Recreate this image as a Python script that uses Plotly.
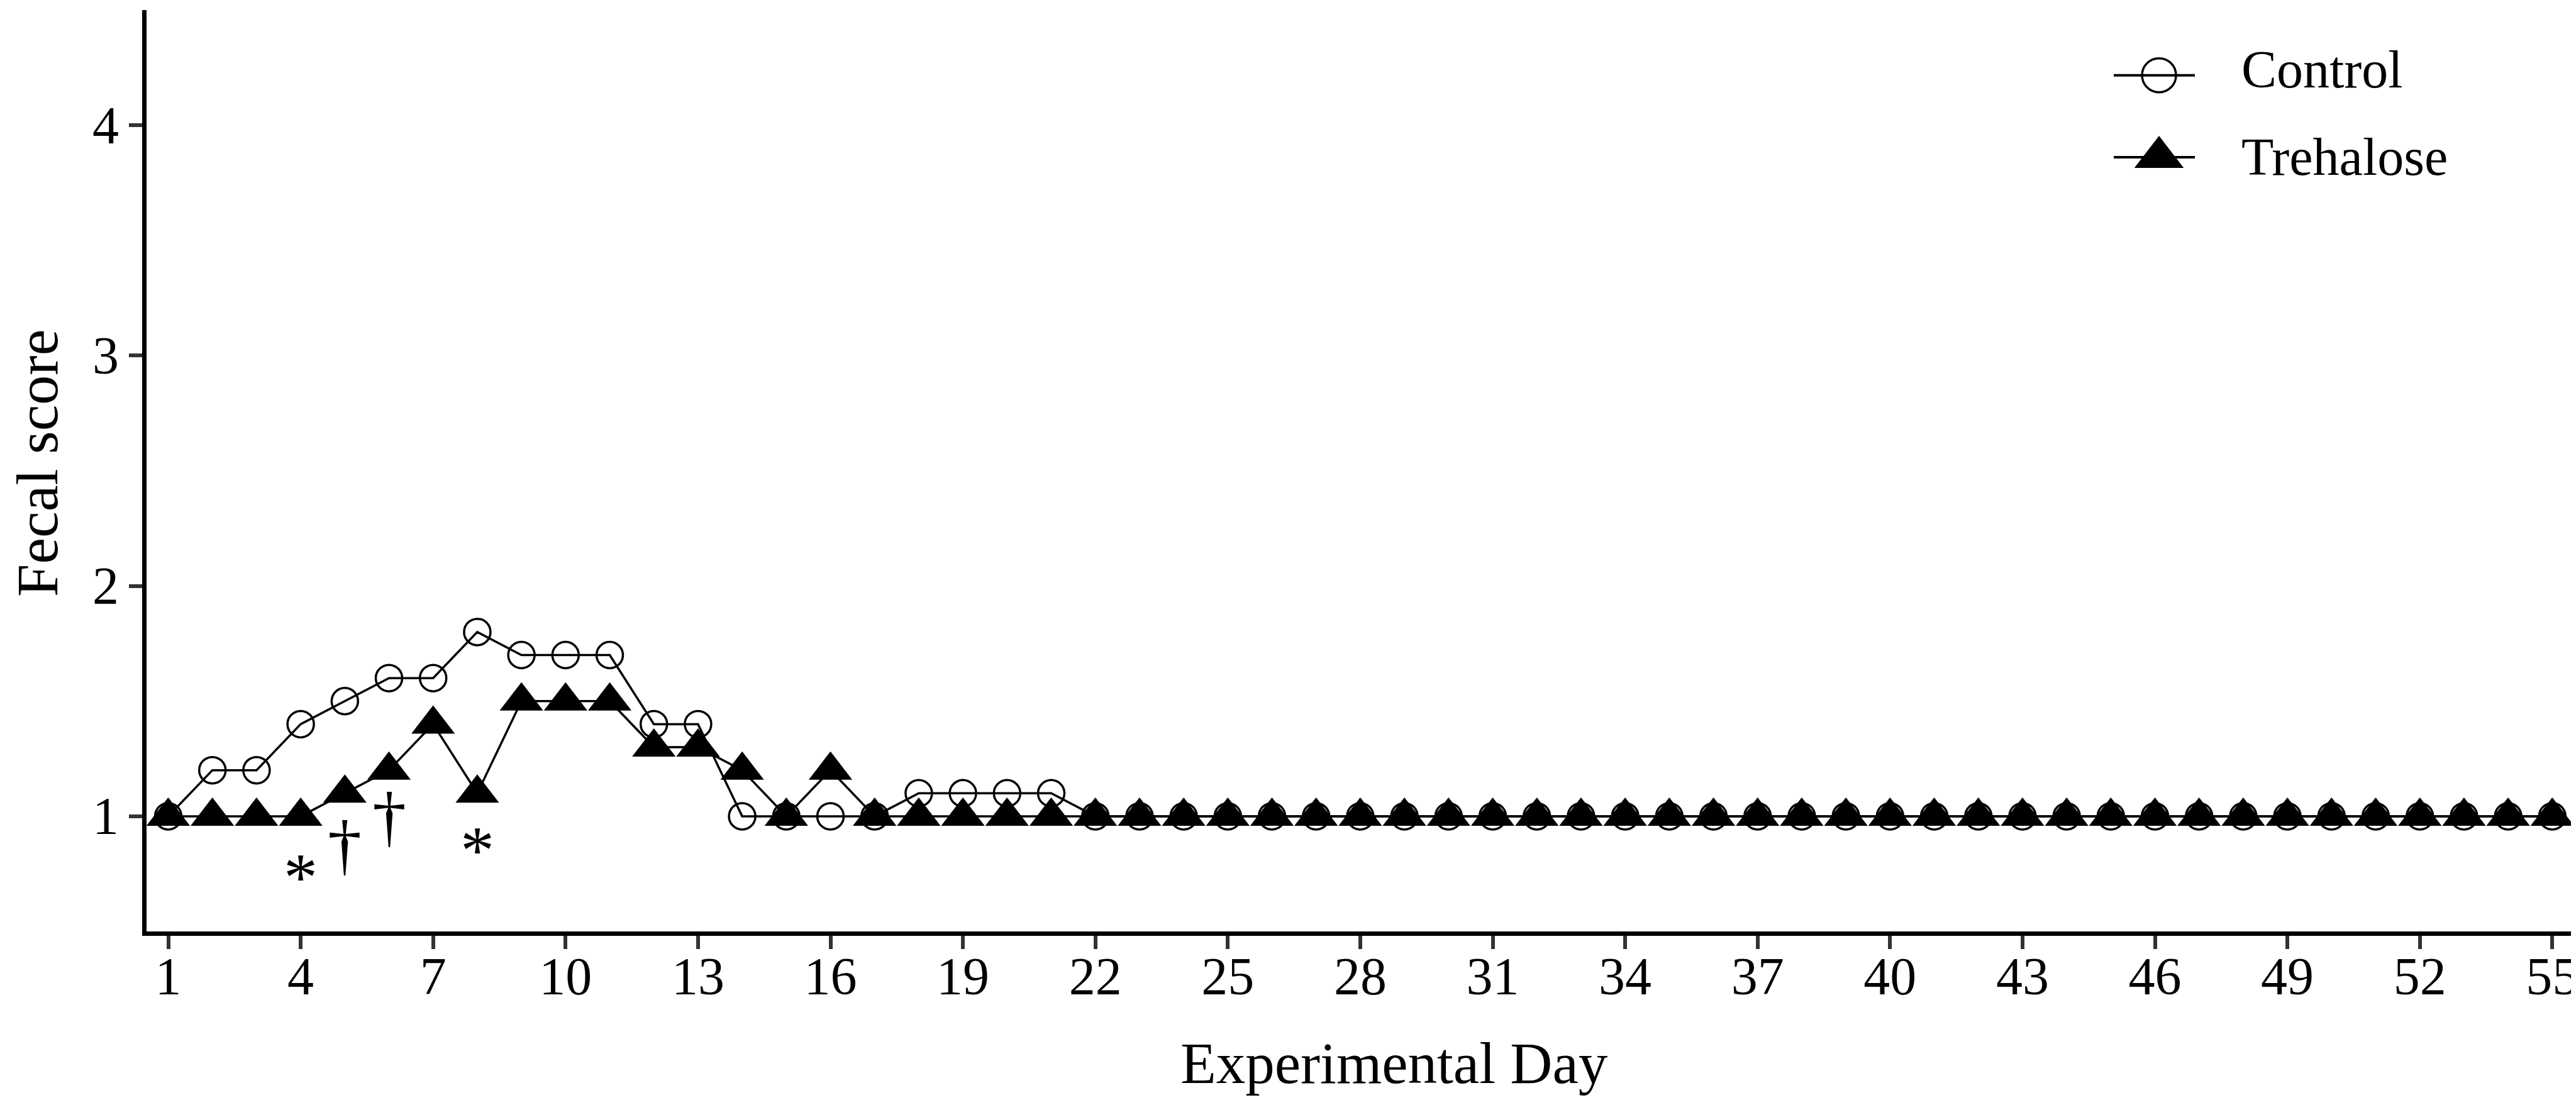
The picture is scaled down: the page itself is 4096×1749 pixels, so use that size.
import plotly.graph_objects as go

# ---- data ----
days = list(range(1, 56))
control = [1.0, 1.2, 1.2, 1.4, 1.5, 1.6, 1.6, 1.8, 1.7, 1.7,
           1.7, 1.4, 1.4, 1.0, 1.0, 1.0, 1.0, 1.1, 1.1, 1.1,
           1.1, 1.0, 1.0, 1.0, 1.0, 1.0, 1.0, 1.0, 1.0, 1.0,
           1.0, 1.0, 1.0, 1.0, 1.0, 1.0, 1.0, 1.0, 1.0, 1.0,
           1.0, 1.0, 1.0, 1.0, 1.0, 1.0, 1.0, 1.0, 1.0, 1.0,
           1.0, 1.0, 1.0, 1.0, 1.0]
trehalose = [1.0, 1.0, 1.0, 1.0, 1.1, 1.2, 1.4, 1.1, 1.5, 1.5,
             1.5, 1.3, 1.3, 1.2, 1.0, 1.2, 1.0, 1.0, 1.0, 1.0,
             1.0, 1.0, 1.0, 1.0, 1.0, 1.0, 1.0, 1.0, 1.0, 1.0,
             1.0, 1.0, 1.0, 1.0, 1.0, 1.0, 1.0, 1.0, 1.0, 1.0,
             1.0, 1.0, 1.0, 1.0, 1.0, 1.0, 1.0, 1.0, 1.0, 1.0,
             1.0, 1.0, 1.0, 1.0, 1.0]
x_tick_vals = [1, 4, 7, 10, 13, 16, 19, 22, 25, 28, 31, 34, 37, 40, 43, 46, 49, 52, 55]
y_tick_vals = [1, 2, 3, 4]
sig_days = [4, 5, 6, 8]
sig_marks = ["*", "\u2020", "\u2020", "*"]
sig_y = [0.773, 0.855, 0.978, 0.888]
series_names = ["Control", "Trehalose"]
x_title = "Experimental Day"
y_title = "Fecal score"

# ---- layout geometry (window pixels; page body has an 8px margin) ----
OFF = 8
WIN_W, WIN_H = 4096, 1749
W, H = WIN_W - OFF, WIN_H - OFF
PLOT_LEFT, PLOT_TOP, PLOT_BOTTOM = 233, 16, 1481     # window coordinates
L = PLOT_LEFT - OFF
T = PLOT_TOP - OFF
B = H - (PLOT_BOTTOM - OFF)
R = 0
PW, PH = W - L - R, H - T - B
PX_PER_DAY = 70.2
DAY1_PX = 267.5
xmin = 1 - (DAY1_PX - PLOT_LEFT) / PX_PER_DAY
xmax = xmin + PW / PX_PER_DAY
FONT = "Liberation Serif, Times New Roman, serif"


def px_x(p):  # window pixel -> paper fraction
    return (p - OFF - L) / PW


def px_y(p):
    return (H - B - (p - OFF)) / PH


fig = go.Figure()

fig.add_trace(go.Scatter(
    x=days, y=control, mode="lines+markers", name=series_names[0],
    line=dict(color="black", width=3.5),
    marker=dict(symbol="circle-open", size=42, color="black",
                line=dict(width=3.5, color="black")),
    showlegend=False))
fig.add_trace(go.Scatter(
    x=days, y=trehalose, mode="lines+markers", name=series_names[1],
    line=dict(color="black", width=3.5),
    marker=dict(symbol="triangle-up", size=60, color="black",
                line=dict(width=0)),
    showlegend=False))

# ---- custom legend drawn on an overlay axis in window pixels ----
leg_x0, leg_x1, leg_xc = 3361, 3490, 3433
leg_rows = [119.7, 250]
leg_text_y = [111, 249.5]
leg_symbols = [dict(symbol="circle-open", size=54, color="black", line=dict(width=3.5, color="black")),
               dict(symbol="triangle-up", size=68, color="black", line=dict(width=0))]
for name, yy, sym in zip(series_names, leg_rows, leg_symbols):
    fig.add_trace(go.Scatter(x=[leg_x0, leg_x1], y=[yy, yy], mode="lines",
                             line=dict(color="black", width=4),
                             xaxis="x2", yaxis="y2", showlegend=False, hoverinfo="skip"))
    fig.add_trace(go.Scatter(x=[leg_xc], y=[yy], mode="markers", marker=sym,
                             xaxis="x2", yaxis="y2", showlegend=False, hoverinfo="skip"))

annotations = []
for name, ty in zip(series_names, leg_text_y):
    annotations.append(dict(x=px_x(3562), y=px_y(ty), xref="paper", yref="paper", text=name,
                            showarrow=False, xanchor="left", yanchor="middle",
                            font=dict(family=FONT, size=84, color="black")))

# y tick labels placed at the axis scale positions
for v in y_tick_vals:
    annotations.append(dict(x=px_x(190), y=v, xref="paper", yref="y", text=str(v),
                            showarrow=False, xanchor="right", yanchor="middle",
                            borderpad=0,
                            font=dict(family=FONT, size=84, color="black")))

# significance marks
for d, m, yv in zip(sig_days, sig_marks, sig_y):
    annotations.append(dict(x=d, y=yv, xref="x", yref="y", text=m, showarrow=False,
                            xanchor="center", yanchor="middle",
                            yshift=(-13 if m == "*" else 8),
                            font=dict(family=FONT, size=108, color="black")))

# axis titles
annotations.append(dict(x=px_x(2217), y=px_y(1691), xref="paper", yref="paper", text=x_title,
                        showarrow=False, xanchor="center", yanchor="middle",
                        font=dict(family=FONT, size=93, color="black")))
annotations.append(dict(x=px_x(59), y=px_y(737), xref="paper", yref="paper",
                        text=y_title, textangle=-90,
                        showarrow=False, xanchor="center", yanchor="middle",
                        font=dict(family=FONT, size=94, color="black")))

fig.update_layout(
    width=W, height=H,
    margin=dict(l=L, r=R, t=T, b=B, pad=0, autoexpand=False),
    paper_bgcolor="white", plot_bgcolor="white",
    font=dict(family=FONT, color="black"),
    showlegend=False,
    annotations=annotations,
    xaxis=dict(range=[xmin, xmax], tickmode="array", tickvals=x_tick_vals,
               ticks="outside", ticklen=21, tickwidth=6, tickcolor="#333333",
               showline=True, linewidth=7, linecolor="black",
               showgrid=False, zeroline=False, automargin=False,
               ticklabeloverflow="allow",
               tickfont=dict(family=FONT, size=84, color="black"),
               ticklabelstandoff=-29),
    yaxis=dict(range=[0.5, 4.5], tickmode="array", tickvals=y_tick_vals,
               ticks="outside", ticklen=21, tickwidth=6, tickcolor="#333333",
               showline=True, linewidth=7, linecolor="black",
               showgrid=False, zeroline=False, automargin=False,
               showticklabels=False),
    xaxis2=dict(range=[PLOT_LEFT, WIN_W], overlaying="x", anchor="y2", visible=False,
                domain=[0, 1]),
    yaxis2=dict(range=[PLOT_BOTTOM, PLOT_TOP], overlaying="y", anchor="x2", visible=False,
                domain=[0, 1]),
)

fig.write_html("out.html")
